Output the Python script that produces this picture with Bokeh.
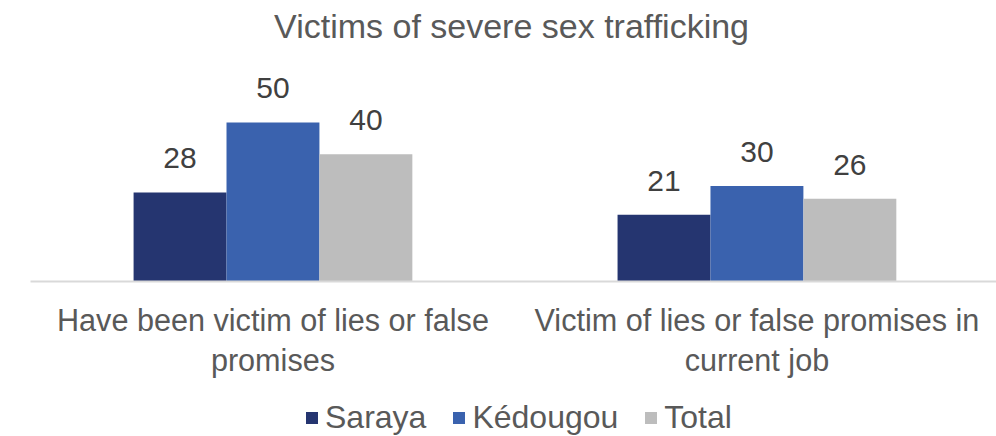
from bokeh.plotting import figure
from bokeh.layouts import column
from bokeh.models import (ColumnDataSource, Range1d, FixedTicker, Legend, LegendItem, Label)
from bokeh.transform import dodge
from bokeh.core.properties import value
from bokeh.embed import file_html
from bokeh.resources import INLINE

# ---- data ----
title_text = "Victims of severe sex trafficking"
categories = ["Have been victim of lies or false\npromises",
              "Victim of lies or false promises in\ncurrent job"]
cat_pos = [0.5, 1.5]
saraya = [28, 21]
kedougou = [50, 30]
total = [40, 26]
series_names = ["Saraya", "Kédougou", "Total"]
colors = ["#253570", "#3a62ae", "#bdbdbd"]

FONT = "Liberation Sans"

src = ColumnDataSource(dict(
    x=cat_pos,
    saraya=saraya, kedougou=kedougou, total=total,
    saraya_lbl=[str(v) for v in saraya],
    kedougou_lbl=[str(v) for v in kedougou],
    total_lbl=[str(v) for v in total],
))

p = figure(frame_width=966, frame_height=281,
           output_backend="svg", toolbar_location=None,
           x_range=Range1d(-0.001, 1.995), y_range=Range1d(0, 88.36),
           title=None)
p.min_border_left = 30
p.min_border_right = 0
p.min_border_top = 0
p.min_border_bottom = 115
p.outline_line_color = None
p.background_fill_color = "white"
p.border_fill_color = "white"

p.add_layout(Label(x=0.993, y=80.2, text=title_text, text_align="center",
                   text_baseline="alphabetic", text_font=FONT,
                   text_font_size="34px", text_color="#595959"))

w = 0.192
offsets = [-w, 0.0, w]
cols = ["saraya", "kedougou", "total"]
for col, off, c in zip(cols, offsets, colors):
    p.vbar(x=dodge("x", off, range=p.x_range), top=col, width=w, source=src,
           fill_color=c, line_color=None)
    p.text(x=dodge("x", off, range=p.x_range), y=col, text=col + "_lbl", source=src,
           text_align="center", text_baseline="alphabetic", y_offset=-34,
           text_font=value(FONT), text_font_size="30px", text_color="#404040")

p.xgrid.visible = False
p.ygrid.visible = False
p.yaxis.visible = False

ax = p.xaxis[0]
ax.ticker = FixedTicker(ticks=cat_pos)
ax.major_label_overrides = {pos: lab for pos, lab in zip(cat_pos, categories)}
ax.major_label_text_font = FONT
ax.major_label_text_font_size = "30.6px"
ax.major_label_text_color = "#595959"
ax.major_label_standoff = 15
ax.major_tick_line_color = None
ax.minor_tick_line_color = None
ax.axis_line_color = "#d9d9d9"
ax.axis_line_width = 2

# legend strip below the chart (key renderers have zero height, so draw nothing)
pl = figure(width=996, height=40, output_backend="svg", toolbar_location=None,
            x_range=Range1d(0, 1), y_range=Range1d(0, 1), title=None)
pl.min_border_left = pl.min_border_right = pl.min_border_top = pl.min_border_bottom = 0
pl.outline_line_color = None
pl.background_fill_color = "white"
pl.border_fill_color = "white"
pl.xaxis.visible = False
pl.yaxis.visible = False
pl.xgrid.visible = False
pl.ygrid.visible = False
keys = [pl.vbar(x=[0.5], top=[0], bottom=[0], width=0.1, fill_color=c, line_color=None)
        for c in colors]
legend = Legend(items=[LegendItem(label=n, renderers=[r]) for n, r in zip(series_names, keys)],
                orientation="horizontal", location=(274, 0),
                glyph_width=15, glyph_height=15, label_standoff=6, spacing=25,
                label_text_font=FONT, label_text_font_size="32px",
                label_text_color="#595959", border_line_color=None,
                background_fill_alpha=0, padding=0, margin=0)
pl.add_layout(legend)

layout = column(p, pl, spacing=0)
open("out.html", "w").write(file_html(layout, INLINE))
